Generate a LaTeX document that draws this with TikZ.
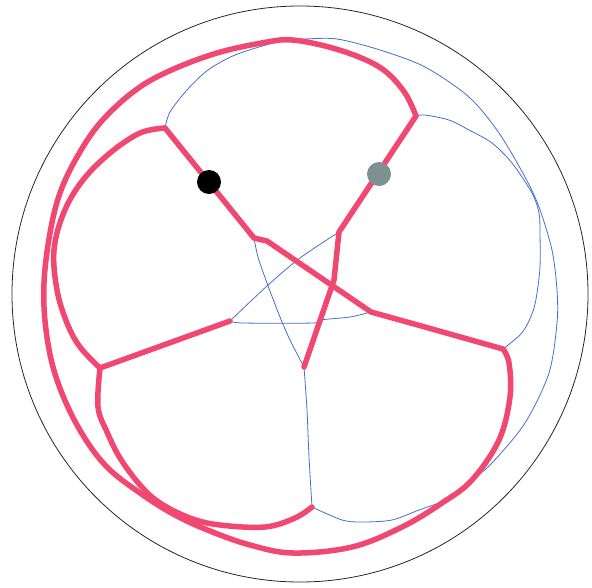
\documentclass[tikz,border=0pt]{standalone}
\begin{document}
\begin{tikzpicture}[x=1pt,y=-1pt,
  redline/.style={draw={rgb,255:red,240;green,72;blue,112},line width=5.5pt,line join=round,line cap=round},
  blueline/.style={draw={rgb,255:red,70;green,110;blue,205},line width=0.8pt,line join=round},
  rim/.style={draw=black!85,line width=0.8pt},
  dot/.style={circle,inner sep=0pt,minimum size=24pt,draw=none}]
\useasboundingbox (0,0) rectangle (592,587);
% junctions
\coordinate (A) at (165,128);
\coordinate (B) at (416,116);
\coordinate (C) at (100,368);
\coordinate (D) at (503,349);
\coordinate (E) at (312,507);
\coordinate (P1) at (254,238);
\coordinate (P2) at (339,232);
\coordinate (P3) at (371,312);
\coordinate (P4) at (304,367);
\coordinate (P5) at (230,321);
\coordinate (O) at (300,294);
% rim
\draw[rim] (O) circle[radius=288pt];
% blue network
\draw[blueline] plot[smooth,tension=0.5] coordinates {(A) (170,112) (187,90) (208,70) (235,55) (273,43) (290,40) (305,39) (337,39) (380,50) (425,67) (469,97) (499,133) (525,177) (539,207) (552,250) (557,290) (557,323) (549,373) (525,423) (492,463) (471,481)};
\draw[blueline] plot[smooth,tension=0.5] coordinates {(B) (425,115) (449,120) (469,130) (492,143) (512,163) (532,193) (539,213) (540,233) (540,267) (537,293) (534,308) (528,323) (520,335) (D)};
\draw[blueline] plot[smooth,tension=0.5] coordinates {(E) (342,520) (362,522) (392,520) (419,510) (442,502)};
\draw[blueline] plot[smooth,tension=0.5] coordinates {(E) (309,457) (307,410) (P4)};
\draw[blueline] plot[smooth,tension=0.5] coordinates {(P1) (258,257) (267,283) (280,317) (290,340) (P4)};
\draw[blueline] plot[smooth,tension=0.5] coordinates {(P5) (267,286) (300,258) (P2)};
\draw[blueline] plot[smooth,tension=0.5] coordinates {(P5) (243,323) (313,323) (320,320) (350,317) (367,313) (P3)};
% red network
\draw[redline] plot[smooth,tension=0.6] coordinates {(B) (405,93) (385,71) (359,57) (325,46) (292,40) (267,42) (217,53) (167,72) (133,92) (100,123) (77,157) (60,193) (50,233) (44,283) (46,330) (56,377) (77,425) (105,465) (140,493) (175,515) (210,531) (250,545) (293,553) (352,547) (402,527) (442,503) (472,480) (499,440) (510,397) (509,363) (D)};
\draw[redline] plot[smooth,tension=0.6] coordinates {(A) (140,133) (110,153) (83,180) (64,212) (54,250) (57,290) (67,323) (80,347) (C)};
\draw[redline] plot[smooth,tension=0.6] coordinates {(C) (98,407) (107,432) (120,458) (140,485) (160,503) (190,518) (220,525) (265,527) (295,518) (E)};
\draw[redline] (A) -- (P1) -- (267,241) -- (P3) -- (425,327) -- (D);
\draw[redline] (B) -- (P2) -- (334,280) -- (P4);
\draw[redline] (C) -- (P5);
% dots
\node[dot,fill=black] (blackdot) at (209,182) {};
\node[dot,fill={rgb,255:red,125;green,145;blue,145}] (greydot) at (379,174) {};
\end{tikzpicture}
\end{document}
